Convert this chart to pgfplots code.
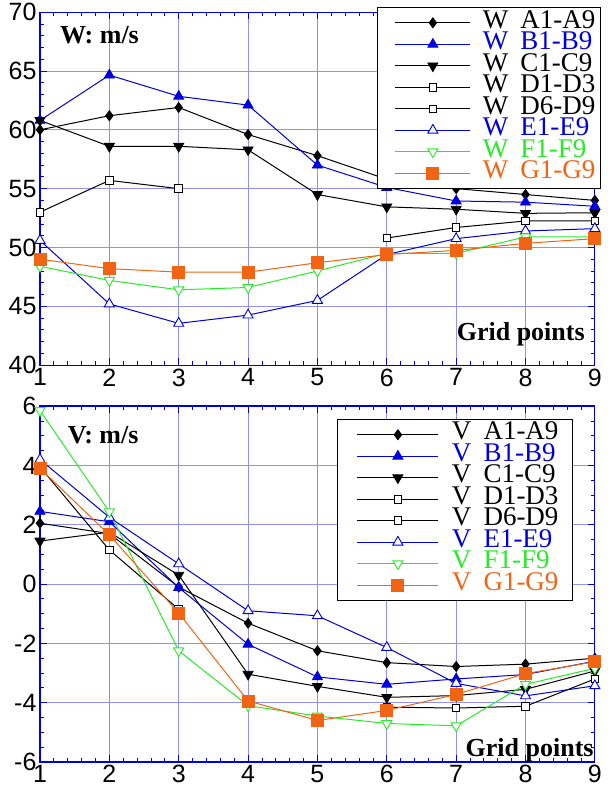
\documentclass[border=0pt]{standalone}
\usepackage{pgfplots}
\pgfplotsset{compat=1.18}
\usepackage{fontspec}
\setmainfont{Liberation Serif}
\newfontfamily\tickfont{Liberation Sans}
\definecolor{cblue}{RGB}{0,0,220}
\definecolor{cgreen}{RGB}{40,235,40}
\definecolor{corange}{RGB}{240,100,20}
\definecolor{cgrid}{RGB}{145,145,240}
\pgfplotsset{
 mystyle/.style={
  scale only axis, width=555pt, clip=false,
  xmin=1, xmax=9, xtick={1,...,9}, minor x tick num=4,
  axis line style={cblue, line width=1.2pt},
  grid=major, major grid style={cgrid, line width=0.8pt},
  tick style={cblue, line width=0.8pt},
  tick align=inside, xtick pos=both, ytick pos=both,
  xticklabel pos=lower, yticklabel pos=left,
  major tick length=7pt, minor tick length=4pt,
  tick label style={font=\tickfont\fontsize{25}{25}\selectfont},
  /pgf/number format/assume math mode=true,
  legend cell align=left,
  legend style={draw=black, line width=0.8pt, fill=white,
    font=\fontsize{27}{27}\selectfont, inner ysep=4.5pt, row sep=0pt, column sep=0pt,
    nodes={inner sep=0pt, text height=16pt, text depth=5.5pt}},
 },
 topleg/.style={legend style={inner xsep=5pt},
  legend image code/.code={\path (0pt,0pt) (99pt,0pt);\draw[mark repeat=2,mark phase=2] plot coordinates {(12pt,0pt) (49.5pt,0pt) (87pt,0pt)};}},
 botleg/.style={legend style={inner xsep=14pt},
  legend image code/.code={\path (0pt,0pt) (100pt,0pt);\draw[mark repeat=2,mark phase=2] plot coordinates {(6pt,0pt) (46.5pt,0pt) (87pt,0pt)};}},
 sA/.style={black, line width=1pt, mark=diamond*, mark size=5pt, mark options={fill=black, line width=0.8pt}},
 sB/.style={cblue, line width=1pt, mark=triangle*, mark size=5.8pt, mark options={fill=cblue, line width=0.8pt}},
 sC/.style={black, line width=1pt, mark=triangle*, mark size=5.8pt, mark options={fill=black, rotate=180, line width=0.8pt}},
 sD/.style={black, line width=1pt, mark=square*, mark size=3.8pt, mark options={fill=white, line width=0.9pt}},
 sE/.style={cblue, line width=1pt, mark=triangle*, mark size=5.8pt, mark options={fill=white, line width=0.9pt}},
 sF/.style={cgreen, line width=1pt, mark=triangle*, mark size=5.8pt, mark options={fill=white, rotate=180, line width=0.9pt}},
 sG/.style={corange, line width=1pt, mark=square*, mark size=6pt, mark options={fill=corange, line width=0.8pt}},
}
\begin{document}
\begin{tikzpicture}
\begin{axis}[mystyle, topleg, at={(40pt,-12pt)}, anchor=north west, height=353pt,
  ymin=40, ymax=70, ytick={40,45,...,70}, minor y tick num=4,
  legend style={at={(axis description cs:1.0108,1.0142)}, anchor=north east}]
\addplot[sA] coordinates {(1,60.0)(2,61.2)(3,61.9)(4,59.6)(5,57.8)(6,55.8)(7,55.0)(8,54.5)(9,54.0)};
\addlegendentry{W\hspace{0.45em}A1-A9}
\addplot[sB] coordinates {(1,60.8)(2,64.65)(3,62.85)(4,62.1)(5,57.0)(6,55.1)(7,53.95)(8,53.85)(9,53.5)};
\addlegendentry{\textcolor{cblue}{W\hspace{0.45em}B1-B9}}
\addplot[sC] coordinates {(1,60.8)(2,58.6)(3,58.6)(4,58.3)(5,54.5)(6,53.45)(7,53.25)(8,52.9)(9,52.95)};
\addlegendentry{W\hspace{0.45em}C1-C9}
\addplot[sD] coordinates {(1,53.0)(2,55.7)(3,55.0)};
\addlegendentry{W\hspace{0.45em}D1-D3}
\addplot[sD] coordinates {(6,50.8)(7,51.7)(8,52.25)(9,52.25)};
\addlegendentry{W\hspace{0.45em}D6-D9}
\addplot[sE] coordinates {(1,50.6)(2,45.2)(3,43.55)(4,44.25)(5,45.5)(6,49.4)(7,50.75)(8,51.4)(9,51.6)};
\addlegendentry{\textcolor{cblue}{W\hspace{0.45em}E1-E9}}
\addplot[sF] coordinates {(1,48.4)(2,47.2)(3,46.4)(4,46.6)(5,48.0)(6,49.5)(7,49.5)(8,50.9)(9,50.9)};
\addlegendentry{\textcolor{cgreen}{W\hspace{0.45em}F1-F9}}
\addplot[sG] coordinates {(1,49.0)(2,48.2)(3,47.9)(4,47.9)(5,48.7)(6,49.4)(7,49.75)(8,50.35)(9,50.75)};
\addlegendentry{\textcolor{corange}{W\hspace{0.45em}G1-G9}}
\node[anchor=base west, inner sep=0pt, font=\bfseries\fontsize{26}{26}\selectfont] at (axis description cs:0.036,0.912) {W: m/s};
\node[anchor=base east, inner sep=0pt, font=\bfseries\fontsize{26}{26}\selectfont] at (axis description cs:0.982,0.071) {Grid points};
\end{axis}
\begin{axis}[mystyle, botleg, at={(40pt,-406pt)}, anchor=north west, height=356pt,
  ymin=-6, ymax=6, ytick={-6,-4,...,6}, minor y tick num=3,
  legend style={at={(axis description cs:0.9604,0.9635)}, anchor=north east}]
\addplot[sA] coordinates {(1,2.05)(2,1.7)(3,-0.1)(4,-1.32)(5,-2.25)(6,-2.65)(7,-2.78)(8,-2.7)(9,-2.5)};
\addlegendentry{V\hspace{0.45em}A1-A9}
\addplot[sB] coordinates {(1,2.45)(2,2.1)(3,-0.12)(4,-2.03)(5,-3.13)(6,-3.38)(7,-3.2)(8,-3.05)(9,-2.6)};
\addlegendentry{\textcolor{cblue}{V\hspace{0.45em}B1-B9}}
\addplot[sC] coordinates {(1,1.45)(2,1.75)(3,0.3)(4,-3.04)(5,-3.45)(6,-3.82)(7,-3.76)(8,-3.55)(9,-2.93)};
\addlegendentry{V\hspace{0.45em}C1-C9}
\addplot[sD] coordinates {(1,3.95)(2,1.15)(3,-0.85)};
\addlegendentry{V\hspace{0.45em}D1-D3}
\addplot[sD] coordinates {(6,-4.15)(7,-4.18)(8,-4.12)(9,-3.2)};
\addlegendentry{V\hspace{0.45em}D6-D9}
\addplot[sE] coordinates {(1,4.2)(2,2.25)(3,0.68)(4,-0.9)(5,-1.07)(6,-2.14)(7,-3.35)(8,-3.77)(9,-3.43)};
\addlegendentry{\textcolor{cblue}{V\hspace{0.45em}E1-E9}}
\addplot[sF] coordinates {(1,5.85)(2,2.44)(3,-2.25)(4,-4.1)(5,-4.45)(6,-4.7)(7,-4.78)(8,-3.38)(9,-2.84)};
\addlegendentry{\textcolor{cgreen}{V\hspace{0.45em}F1-F9}}
\addplot[sG] coordinates {(1,3.9)(2,1.66)(3,-0.98)(4,-3.94)(5,-4.6)(6,-4.26)(7,-3.72)(8,-3.02)(9,-2.62)};
\addlegendentry{\textcolor{corange}{V\hspace{0.45em}G1-G9}}
\node[anchor=base west, inner sep=0pt, font=\bfseries\fontsize{26}{26}\selectfont] at (axis description cs:0.05,0.896) {V: m/s};
\node[anchor=base east, inner sep=0pt, font=\bfseries\fontsize{26}{26}\selectfont] at (axis description cs:0.998,0.016) {Grid points};
\end{axis}
\path (0pt,0pt) rectangle (608pt,-803pt);
\end{tikzpicture}
\end{document}
